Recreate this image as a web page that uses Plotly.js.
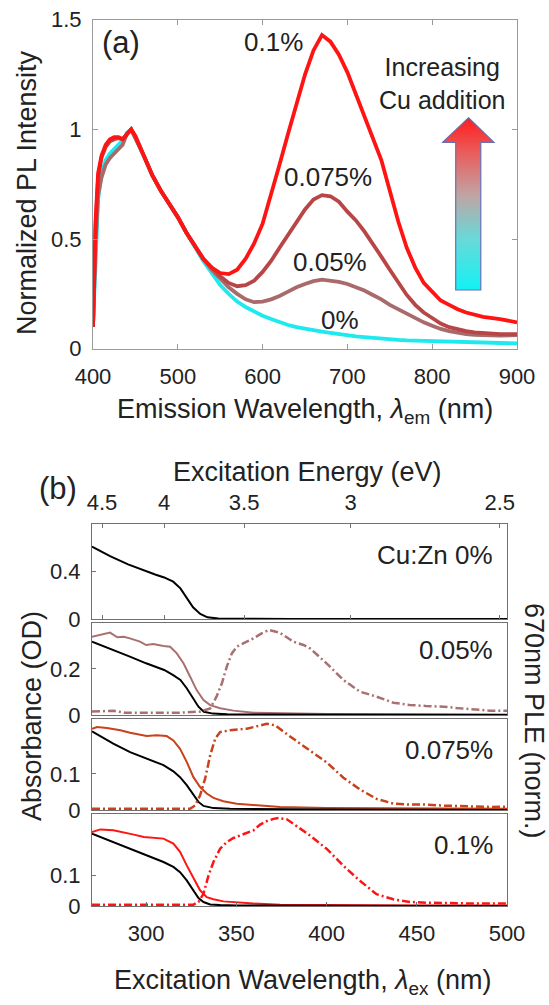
<!DOCTYPE html>
<html>
<head>
<meta charset="utf-8">
<script src="https://cdn.plot.ly/plotly-3.0.1.min.js"></script>
<style>html,body{margin:0;padding:0;background:#fff;}#chart{width:549px;height:1005px;}</style>
</head>
<body>
<div id="chart"></div>
<script>
// ---------- Panel (a): normalized PL spectra ----------
const emWavelength = [400,403,406,410,415,420,425,430,435,440,445,450,460,470,480,490,500,510,520,530,540,550,560,570,580,590,600,610,620,630,640,650,660,670,680,690,700,710,720,730,740,750,760,770,780,790,800,810,820,830,840,850,860,880,900];
const pl0   = [0.10,0.45,0.68,0.80,0.86,0.89,0.91,0.93,0.95,0.985,1.0,0.96,0.88,0.79,0.72,0.66,0.60,0.53,0.465,0.40,0.345,0.29,0.25,0.215,0.19,0.17,0.15,0.135,0.12,0.108,0.098,0.09,0.084,0.078,0.072,0.066,0.06,0.056,0.053,0.049,0.045,0.042,0.04,0.038,0.037,0.036,0.035,0.034,0.032,0.031,0.03,0.029,0.028,0.026,0.024];
const pl005 = [0.10,0.48,0.70,0.78,0.84,0.87,0.89,0.91,0.93,0.98,1.0,0.96,0.88,0.79,0.72,0.66,0.60,0.53,0.47,0.41,0.36,0.32,0.28,0.25,0.225,0.212,0.215,0.225,0.24,0.26,0.28,0.295,0.308,0.315,0.312,0.305,0.295,0.28,0.265,0.245,0.225,0.20,0.18,0.16,0.14,0.12,0.105,0.09,0.08,0.072,0.066,0.063,0.061,0.06,0.062];
const pl0075= [0.10,0.55,0.78,0.87,0.92,0.945,0.955,0.96,0.955,0.98,1.0,0.965,0.88,0.79,0.72,0.66,0.60,0.53,0.47,0.41,0.37,0.33,0.30,0.285,0.29,0.31,0.35,0.40,0.46,0.52,0.58,0.635,0.68,0.70,0.695,0.67,0.625,0.585,0.535,0.48,0.42,0.36,0.30,0.245,0.20,0.165,0.14,0.115,0.098,0.088,0.08,0.074,0.07,0.066,0.066];
const pl01  = [0.10,0.58,0.80,0.88,0.93,0.955,0.965,0.965,0.955,0.98,1.0,0.97,0.88,0.79,0.72,0.66,0.60,0.53,0.47,0.41,0.37,0.345,0.34,0.36,0.41,0.48,0.57,0.70,0.84,0.98,1.12,1.25,1.36,1.43,1.40,1.34,1.26,1.16,1.07,0.97,0.86,0.72,0.58,0.46,0.37,0.30,0.26,0.22,0.20,0.18,0.165,0.155,0.145,0.135,0.12];
const plLabels = ['0%','0.05%','0.075%','0.1%'];

// ---------- Panel (b): absorbance and PLE ----------
const energyTicks = [4.5,4,3.5,3,2.5];
const energyTickText = ['4.5','4','3.5','3','2.5'];

// Cu:Zn 0% absorbance
const lamAbs0 = [270,280,290,300,305,310,315,319,322.5,326,330,334,340,350,380,420,460,500];
const abs0    = [0.61,0.53,0.46,0.40,0.375,0.35,0.314,0.258,0.174,0.098,0.042,0.014,0.004,0.002,0.001,0,0,0];

// 0.05%
const lamRef05 = [270,282,291,300,310,315,319,322.5,326,329,332,337,345,400,500];
const absRef05 = [0.318,0.282,0.253,0.224,0.195,0.173,0.152,0.116,0.072,0.036,0.014,0.006,0.003,0.001,0];
const lamAbs05 = [270,274.6,280,284,287.6,291,296.6,300,304,309.6,313.3,317,320.7,324.4,328,331.8,335.5,341,348.4,359.5,374,400,450,500];
const abs05    = [0.339,0.347,0.357,0.337,0.339,0.332,0.318,0.303,0.308,0.299,0.296,0.267,0.224,0.166,0.108,0.065,0.043,0.029,0.019,0.01,0.007,0.004,0.003,0.002];
const lamPle05 = [270,282,288,300,319,330,335.5,339,342,344.7,347.5,350.3,354,359.5,364,368,374,381.6,387.2,390.8,400,409.3,418.5,427.7,437,446,455,465,474,483,490.5,500];
const ple05    = [0.04,0.05,0.027,0.027,0.027,0.04,0.078,0.216,0.373,0.569,0.725,0.804,0.843,0.902,0.961,1.0,0.969,0.863,0.824,0.784,0.608,0.412,0.275,0.216,0.145,0.118,0.106,0.098,0.078,0.059,0.051,0.05];

// 0.075%
const lamRef075 = [270,281.8,291.1,300.3,309.6,315.1,318.8,322.5,326.2,329,331.8,337.3,346.5,400,500];
const absRef075 = [0.217,0.183,0.160,0.142,0.124,0.107,0.091,0.069,0.041,0.023,0.012,0.006,0.004,0.002,0.001];
const lamAbs075 = [270,272.8,278.3,285.7,291.1,296.6,300.3,305.8,311.4,315.1,318.8,322.5,326.2,329.9,333.6,337.3,342.8,350.2,359.5,374.3,400,450,500];
const abs075    = [0.224,0.229,0.226,0.22,0.213,0.208,0.204,0.206,0.204,0.192,0.169,0.133,0.091,0.064,0.046,0.034,0.025,0.018,0.014,0.009,0.006,0.004,0.004];
const lamPle075 = [270,300,324.4,327.2,329.9,332.7,335.5,338.3,341,346.5,355.8,363.2,366.9,371.5,374.2,381.6,390.8,400.1,409.3,418.5,427.7,437,446.2,455.4,464.7,473.9,483.1,490.5,500];
const ple075    = [0.018,0.018,0.018,0.058,0.173,0.365,0.635,0.827,0.904,0.924,0.942,0.98,1.0,0.981,0.942,0.825,0.689,0.553,0.377,0.241,0.132,0.078,0.066,0.066,0.054,0.047,0.047,0.039,0.04];

// 0.1%
const lamRef1 = [270,281.8,291.1,300.3,309.6,315.1,318.8,322.5,326.2,329,331.8,335.5,341,350,400,500];
const absRef1 = [0.235,0.208,0.186,0.165,0.143,0.127,0.11,0.083,0.051,0.026,0.013,0.005,0.003,0.002,0.001,0];
const lamAbs1 = [270,274.6,281.8,287.6,293.2,298.7,304.3,309.6,315.1,318.8,322.5,326.2,329.9,333.6,337.3,342.8,350.2,359.5,374.3,400,450,500];
const abs1    = [0.240,0.249,0.246,0.240,0.232,0.224,0.221,0.219,0.203,0.176,0.132,0.089,0.051,0.029,0.022,0.015,0.011,0.008,0.004,0.003,0.002,0.002];
const lamPle1 = [270,300,326.2,329,331.8,334.6,337.3,341,344.7,348.4,352.1,355.8,359.5,363.2,366.9,370.6,373.3,378,381.6,390.8,400.1,409.3,418.5,427.7,437,446.2,455.4,464.7,473.9,483.1,490.5,500];
const ple1    = [0.015,0.015,0.015,0.045,0.14,0.348,0.5,0.652,0.727,0.773,0.803,0.833,0.86,0.925,0.965,0.99,1.0,0.985,0.935,0.802,0.649,0.458,0.286,0.134,0.076,0.046,0.038,0.031,0.031,0.027,0.027,0.027];

const sampleLabels = ['Cu:Zn 0%','0.05%','0.075%','0.1%'];

// ---------- styling ----------
const FONT = 'Liberation Sans, Arial, sans-serif';
const TXT = '#222';
const cCyan = '#1ee9ef', cMauveA = '#a86a6a', cBrownA = '#b94646', cRed = '#ff1414';
const cMauveB = '#a87070', cOrangeB = '#c8421c';
const W = 549, H = 1005;
const px = v => v / W, py = v => 1 - v / H;
const TITLE = 27, LABEL = 26, TICK = 22;

const traces = [
  {x: emWavelength, y: pl0,   name: plLabels[0], mode:'lines', line:{color:cCyan,  width:3.8}, xaxis:'x', yaxis:'y'},
  {x: emWavelength, y: pl005, name: plLabels[1], mode:'lines', line:{color:cMauveA, width:3.8}, xaxis:'x', yaxis:'y'},
  {x: emWavelength, y: pl0075,name: plLabels[2], mode:'lines', line:{color:cBrownA, width:3.8}, xaxis:'x', yaxis:'y'},
  {x: emWavelength, y: pl01,  name: plLabels[3], mode:'lines', line:{color:cRed,   width:3.8}, xaxis:'x', yaxis:'y'},
  // sub1
  {x: lamAbs0, y: abs0, mode:'lines', line:{color:'#000', width:2}, xaxis:'x3', yaxis:'y2'},
  // sub2
  {x: lamPle05, y: ple05, mode:'lines', line:{color:cMauveB, width:2.5, dash:'8px,3px,2px,3px'}, xaxis:'x4', yaxis:'y6'},
  {x: lamAbs05, y: abs05, mode:'lines', line:{color:cMauveB, width:2}, xaxis:'x4', yaxis:'y3'},
  {x: lamRef05, y: absRef05, mode:'lines', line:{color:'#000', width:2}, xaxis:'x4', yaxis:'y3'},
  // sub3
  {x: lamPle075, y: ple075, mode:'lines', line:{color:cOrangeB, width:2.5, dash:'8px,3px,2px,3px'}, xaxis:'x5', yaxis:'y7'},
  {x: lamAbs075, y: abs075, mode:'lines', line:{color:cOrangeB, width:2}, xaxis:'x5', yaxis:'y4'},
  {x: lamRef075, y: absRef075, mode:'lines', line:{color:'#000', width:2}, xaxis:'x5', yaxis:'y4'},
  // sub4
  {x: lamPle1, y: ple1, mode:'lines', line:{color:cRed, width:2.5, dash:'8px,3px,2px,3px'}, xaxis:'x2', yaxis:'y8'},
  {x: lamAbs1, y: abs1, mode:'lines', line:{color:cRed, width:2}, xaxis:'x2', yaxis:'y5'},
  {x: lamRef1, y: absRef1, mode:'lines', line:{color:'#000', width:2}, xaxis:'x2', yaxis:'y5'}
];

const axBase = {showgrid:false, zeroline:false, showline:true, linewidth:1, ticks:'inside', ticklen:5,
  tickfont:{family:FONT, size:TICK, color:TXT}, fixedrange:true};
const aGray = '#9a9a9a', bGray = '#707070';

const domBx = [px(92), px(507)];
const sub = [[py(619), py(524)], [py(715), py(622.7)], [py(810.3), py(719.3)], [py(906), py(813.7)]];

const layout = {
  width: W, height: H, margin:{l:0,r:0,t:0,b:0}, showlegend:false,
  paper_bgcolor:'#fff', plot_bgcolor:'rgba(0,0,0,0)',
  font:{family:FONT, color:TXT},
  xaxis: Object.assign({}, axBase, {domain:[px(93), px(517)], range:[400,900], anchor:'y', tickvals:[400,500,600,700,800,900],
    linecolor:aGray, tickcolor:aGray, mirror:'ticks', ticklabelstandoff:8}),
  yaxis: Object.assign({}, axBase, {domain:[py(348.7), py(19.7)], range:[0,1.5], anchor:'x', tickvals:[0,0.5,1,1.5], ticktext:['0','0.5','1','1.5'],
    linecolor:aGray, tickcolor:aGray, mirror:'ticks', ticklabelstandoff:6}),
  xaxis2: Object.assign({}, axBase, {domain:domBx, range:[270,500], anchor:'y5', tickvals:[300,350,400,450,500],
    linecolor:bGray, tickcolor:bGray, mirror:true, ticklen:4, ticklabelstandoff:8}),
  xaxis3: Object.assign({}, axBase, {domain:domBx, range:[270,500], anchor:'y2', matches:'x2', side:'top',
    tickvals: energyTicks.map(e => 1240/e), ticktext: energyTickText,
    linecolor:bGray, tickcolor:bGray, mirror:'ticks', ticklen:4, ticklabelstandoff:4}),
  xaxis4: Object.assign({}, axBase, {domain:domBx, range:[270,500], anchor:'y3', matches:'x2', showticklabels:false, ticks:'',
    linecolor:bGray, mirror:true}),
  xaxis5: Object.assign({}, axBase, {domain:domBx, range:[270,500], anchor:'y4', matches:'x2', showticklabels:false, ticks:'',
    linecolor:bGray, mirror:true}),
  yaxis2: Object.assign({}, axBase, {domain:sub[0], range:[0,0.8], anchor:'x3', tickvals:[0,0.4], ticktext:['0','0.4'],
    linecolor:bGray, tickcolor:bGray, mirror:true, ticklen:4, ticklabelstandoff:6}),
  yaxis3: Object.assign({}, axBase, {domain:sub[1], range:[0,0.4], anchor:'x4', tickvals:[0,0.2], ticktext:['0','0.2'],
    linecolor:bGray, tickcolor:bGray, mirror:true, ticklen:4, ticklabelstandoff:6}),
  yaxis4: Object.assign({}, axBase, {domain:sub[2], range:[0,0.25], anchor:'x5', tickvals:[0,0.1], ticktext:['0','0.1'],
    linecolor:bGray, tickcolor:bGray, mirror:true, ticklen:4, ticklabelstandoff:6}),
  yaxis5: Object.assign({}, axBase, {domain:sub[3], range:[0,0.3], anchor:'x2', tickvals:[0,0.1], ticktext:['0','0.1'],
    linecolor:bGray, tickcolor:bGray, mirror:true, ticklen:4, ticklabelstandoff:6}),
  yaxis6: {overlaying:'y3', anchor:'x4', side:'right', range:[0,1.086], showticklabels:false, ticks:'', showgrid:false, zeroline:false, showline:false, fixedrange:true},
  yaxis7: {overlaying:'y4', anchor:'x5', side:'right', range:[0,1.051], showticklabels:false, ticks:'', showgrid:false, zeroline:false, showline:false, fixedrange:true},
  yaxis8: {overlaying:'y5', anchor:'x2', side:'right', range:[0,1.049], showticklabels:false, ticks:'', showgrid:false, zeroline:false, showline:false, fixedrange:true},
  annotations: [],
  images: []
};

function ann(text, x, y, size, opts) {
  layout.annotations.push(Object.assign({text:text, x:x, y:y, xref:'paper', yref:'paper', showarrow:false,
    xanchor:'center', yanchor:'middle', font:{family:FONT, size:size, color:TXT}}, opts || {}));
}
// panel (a) texts
ann('Normalized PL Intensity', px(27), py(193), TITLE, {textangle:-90});
ann('Emission Wavelength, <i>λ</i><sub>em</sub> (nm)', px(305), py(411), TITLE);
ann('(a)', px(121), py(43), 31);
ann(plLabels[3], px(273), py(42), LABEL);
ann(plLabels[2], px(328), py(177), LABEL);
ann(plLabels[1], px(330), py(262), LABEL);
ann(plLabels[0], px(340), py(320), LABEL);
ann('Increasing<br>Cu addition', px(442), py(83), 25);
// panel (b) texts
ann('Excitation Energy (eV)', px(307), py(472), TITLE);
ann('(b)', px(58), py(488), 31);
ann(sampleLabels[0], px(495), py(555), LABEL, {xanchor:'right'});
ann(sampleLabels[1], px(495), py(650), LABEL, {xanchor:'right'});
ann(sampleLabels[2], px(495), py(750), LABEL, {xanchor:'right'});
ann(sampleLabels[3], px(495), py(845), LABEL, {xanchor:'right'});
ann('Absorbance (OD)', px(32), py(716), TITLE, {textangle:-90});
ann('670nm PLE (norm.)', px(534), py(721), TITLE, {textangle:90});
ann('Excitation Wavelength, <i>λ</i><sub>ex</sub> (nm)', px(303), py(982), TITLE);

// gradient arrow (decoration) as an inline SVG image
const arrowSvg = "<svg xmlns='http://www.w3.org/2000/svg' width='54' height='174' viewBox='0 0 54 174'>" +
  "<defs><linearGradient id='g' x1='0' y1='1' x2='0' y2='0'>" +
  "<stop offset='0' stop-color='#12f2f4'/><stop offset='0.3' stop-color='#6ad8d8'/>" +
  "<stop offset='0.55' stop-color='#c0a4a4'/><stop offset='0.8' stop-color='#ea5c5c'/><stop offset='1' stop-color='#ff1c1c'/>" +
  "</linearGradient></defs>" +
  "<polygon points='27,0.8 52.5,25.5 39.3,25.5 39.3,173 14.2,173 14.2,25.5 1,25.5' fill='url(#g)' stroke='#6670b4' stroke-width='1.2'/></svg>";
layout.images.push({source:'data:image/svg+xml;charset=utf-8,' + encodeURIComponent(arrowSvg),
  xref:'paper', yref:'paper', x:px(441.5), y:py(117), sizex:54/W, sizey:174/H,
  xanchor:'left', yanchor:'top', sizing:'stretch', layer:'above'});

Plotly.newPlot('chart', traces, layout, {staticPlot:true, displayModeBar:false});
</script>
</body>
</html>
